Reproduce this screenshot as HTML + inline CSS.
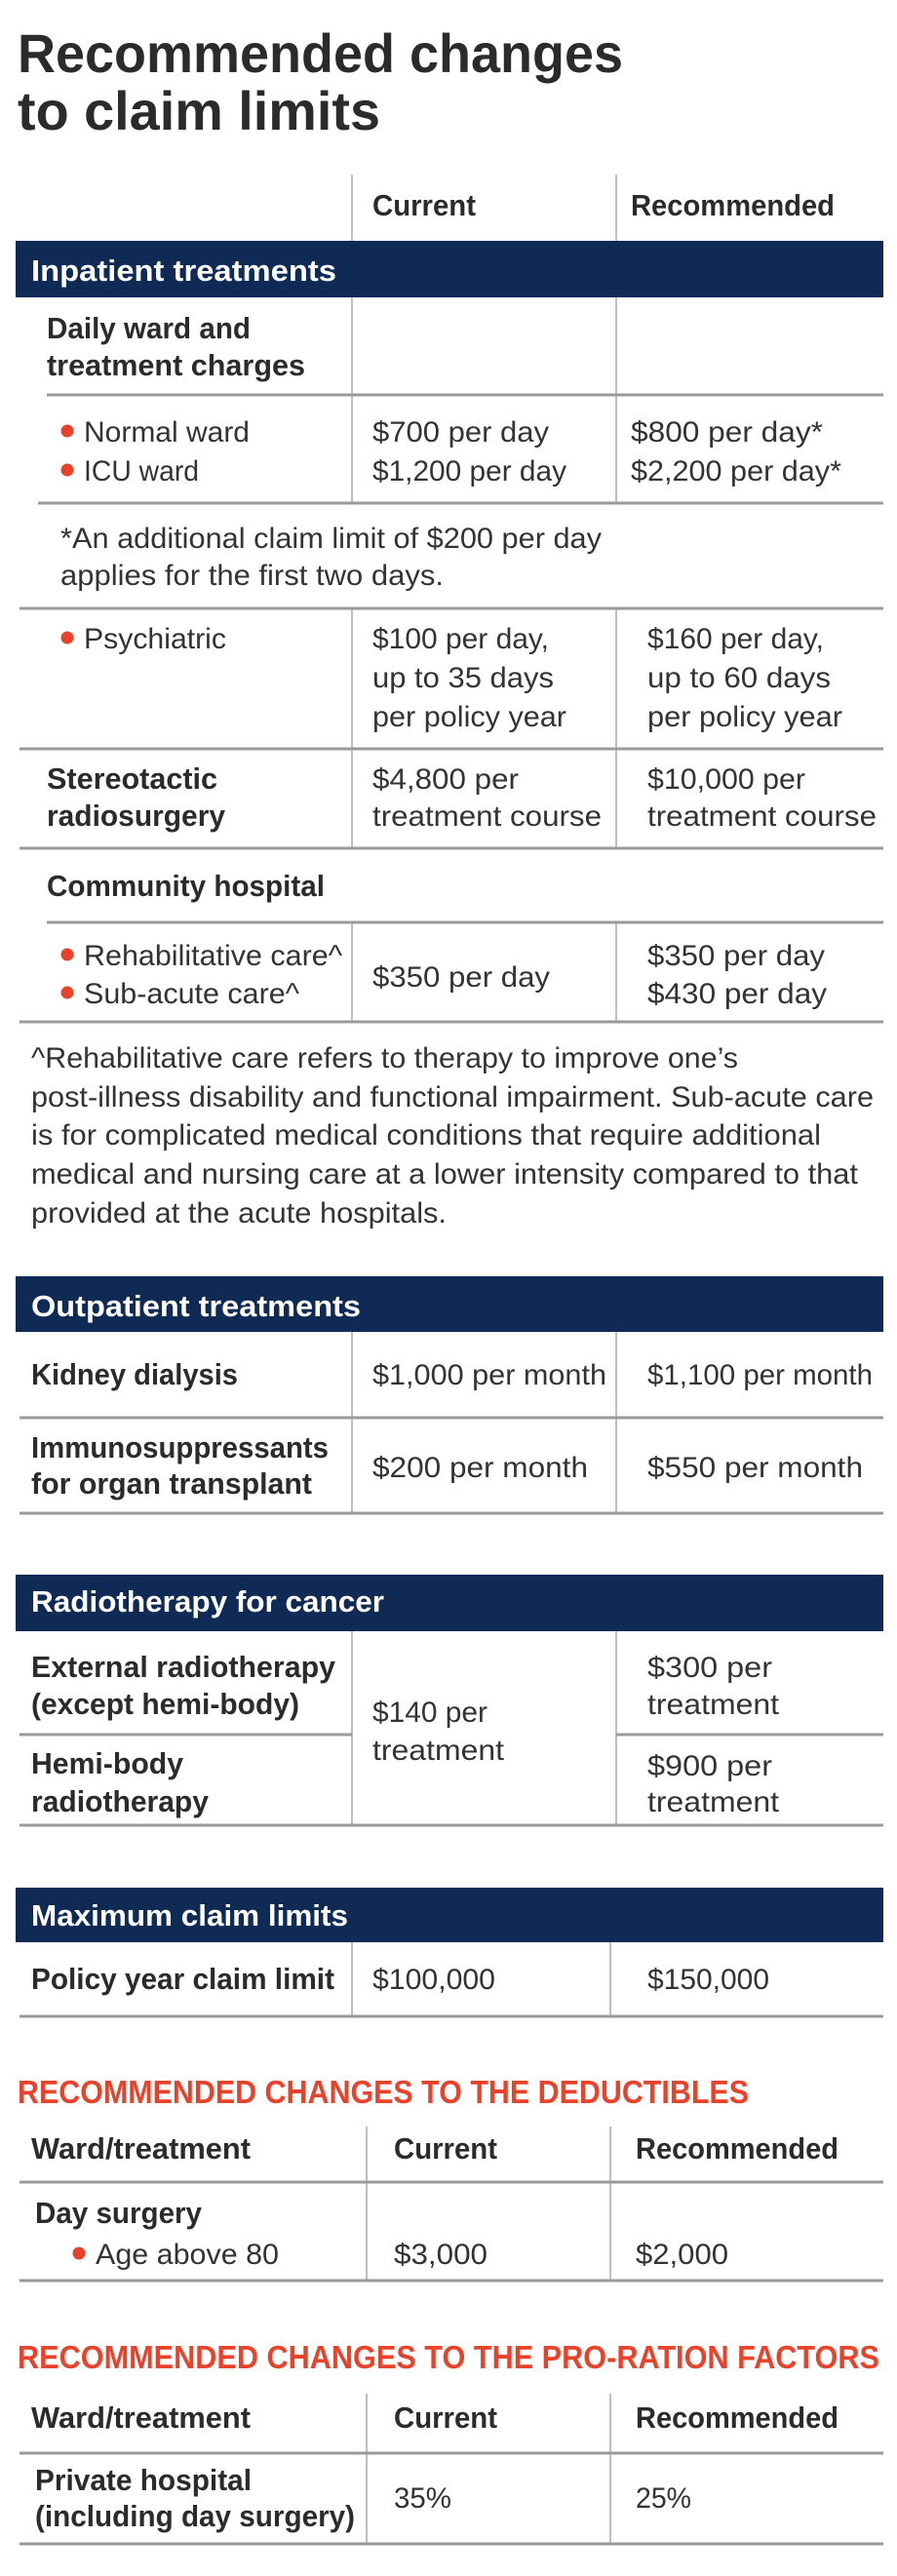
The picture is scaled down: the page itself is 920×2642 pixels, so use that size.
<!DOCTYPE html>
<html><head><meta charset="utf-8"><style>
html,body{margin:0;padding:0;background:#fff;}
svg{display:block;}
text{font-family:"Liberation Sans",sans-serif;fill:#333;}
.b{font-weight:bold;fill:#2b2b2b;}
.w{font-weight:bold;fill:#fff;font-size:31px;}
.n{font-size:30px;}
.h{font-size:31px;}
.r{font-weight:bold;fill:#e8432a;font-size:33px;}
</style></head><body>
<svg width="920" height="2642" viewBox="0 0 920 2642" xmlns="http://www.w3.org/2000/svg">
<g lengthAdjust="spacingAndGlyphs">
<text class="b" x="18" y="74" font-size="56" textLength="621" lengthAdjust="spacingAndGlyphs">Recommended changes</text>
<text class="b" x="18" y="133" font-size="56" textLength="372" lengthAdjust="spacingAndGlyphs">to claim limits</text>
</g>
<g stroke="#a8a8a8" stroke-width="1.5">
<line x1="361" y1="179" x2="361" y2="247"/><line x1="632" y1="179" x2="632" y2="247"/>
<line x1="361" y1="305" x2="361" y2="516"/><line x1="632" y1="305" x2="632" y2="516"/>
<line x1="361" y1="624" x2="361" y2="870"/><line x1="632" y1="624" x2="632" y2="870"/>
<line x1="361" y1="946" x2="361" y2="1048"/><line x1="632" y1="946" x2="632" y2="1048"/>
<line x1="361" y1="1366" x2="361" y2="1552"/><line x1="632" y1="1366" x2="632" y2="1552"/>
<line x1="361" y1="1673" x2="361" y2="1872"/><line x1="632" y1="1673" x2="632" y2="1872"/>
<line x1="361" y1="1992" x2="361" y2="2068"/><line x1="626" y1="1992" x2="626" y2="2068"/>
<line x1="376" y1="2181" x2="376" y2="2339"/><line x1="626" y1="2181" x2="626" y2="2339"/>
<line x1="376" y1="2455" x2="376" y2="2609"/><line x1="626" y1="2455" x2="626" y2="2609"/>
</g>
<g stroke="#9a9a9a" stroke-width="3">
<line x1="48" y1="405" x2="906" y2="405"/>
<line x1="39" y1="516" x2="906" y2="516"/>
<line x1="20" y1="624" x2="906" y2="624"/>
<line x1="20" y1="768" x2="906" y2="768"/>
<line x1="20" y1="870" x2="906" y2="870"/>
<line x1="48" y1="946" x2="906" y2="946"/>
<line x1="20" y1="1048" x2="906" y2="1048"/>
<line x1="20" y1="1454" x2="906" y2="1454"/>
<line x1="20" y1="1552" x2="906" y2="1552"/>
<line x1="20" y1="1779" x2="361" y2="1779"/><line x1="632" y1="1779" x2="906" y2="1779"/>
<line x1="20" y1="1872" x2="906" y2="1872"/>
<line x1="20" y1="2068" x2="906" y2="2068"/>
<line x1="20" y1="2238" x2="906" y2="2238"/>
<line x1="20" y1="2339" x2="906" y2="2339"/>
<line x1="20" y1="2516" x2="906" y2="2516"/>
<line x1="20" y1="2609" x2="906" y2="2609"/>
</g>
<g fill="#0f2a55">
<rect x="16" y="247" width="890" height="58"/>
<rect x="16" y="1309" width="890" height="57"/>
<rect x="16" y="1615" width="890" height="58"/>
<rect x="16" y="1936" width="890" height="56"/>
</g>
<g fill="#e8432a">
<circle cx="69" cy="442" r="6.5"/><circle cx="69" cy="482" r="6.5"/>
<circle cx="69" cy="654" r="6.5"/>
<circle cx="69" cy="979" r="6.5"/><circle cx="69" cy="1018" r="6.5"/>
<circle cx="81" cy="2311" r="6.5"/>
</g>
<!-- header -->
<text class="b h" x="382" y="221" textLength="106" lengthAdjust="spacingAndGlyphs">Current</text>
<text class="b h" x="647" y="221" textLength="209" lengthAdjust="spacingAndGlyphs">Recommended</text>
<text class="w" x="32" y="288" textLength="313" lengthAdjust="spacingAndGlyphs">Inpatient treatments</text>
<text class="b h" x="48" y="347" textLength="209" lengthAdjust="spacingAndGlyphs">Daily ward and</text>
<text class="b h" x="48" y="385" textLength="265" lengthAdjust="spacingAndGlyphs">treatment charges</text>
<text class="n" x="86" y="453" textLength="170" lengthAdjust="spacingAndGlyphs">Normal ward</text>
<text class="n" x="86" y="493" textLength="118" lengthAdjust="spacingAndGlyphs">ICU ward</text>
<text class="n" x="382" y="453" textLength="181" lengthAdjust="spacingAndGlyphs">$700 per day</text>
<text class="n" x="382" y="493" textLength="199" lengthAdjust="spacingAndGlyphs">$1,200 per day</text>
<text class="n" x="647" y="453" textLength="197" lengthAdjust="spacingAndGlyphs">$800 per day*</text>
<text class="n" x="647" y="493" textLength="216" lengthAdjust="spacingAndGlyphs">$2,200 per day*</text>
<text class="n" x="62" y="562" textLength="555" lengthAdjust="spacingAndGlyphs">*An additional claim limit of $200 per day</text>
<text class="n" x="62" y="600" textLength="393" lengthAdjust="spacingAndGlyphs">applies for the first two days.</text>
<text class="n" x="86" y="665" textLength="146" lengthAdjust="spacingAndGlyphs">Psychiatric</text>
<text class="n" x="382" y="665" textLength="181" lengthAdjust="spacingAndGlyphs">$100 per day,</text>
<text class="n" x="382" y="705" textLength="186" lengthAdjust="spacingAndGlyphs">up to 35 days</text>
<text class="n" x="382" y="745" textLength="199" lengthAdjust="spacingAndGlyphs">per policy year</text>
<text class="n" x="664" y="665" textLength="181" lengthAdjust="spacingAndGlyphs">$160 per day,</text>
<text class="n" x="664" y="705" textLength="188" lengthAdjust="spacingAndGlyphs">up to 60 days</text>
<text class="n" x="664" y="745" textLength="200" lengthAdjust="spacingAndGlyphs">per policy year</text>
<text class="b h" x="48" y="809" textLength="175" lengthAdjust="spacingAndGlyphs">Stereotactic</text>
<text class="b h" x="48" y="847" textLength="183" lengthAdjust="spacingAndGlyphs">radiosurgery</text>
<text class="n" x="382" y="809" textLength="150" lengthAdjust="spacingAndGlyphs">$4,800 per</text>
<text class="n" x="382" y="847" textLength="235" lengthAdjust="spacingAndGlyphs">treatment course</text>
<text class="n" x="664" y="809" textLength="162" lengthAdjust="spacingAndGlyphs">$10,000 per</text>
<text class="n" x="664" y="847" textLength="235" lengthAdjust="spacingAndGlyphs">treatment course</text>
<text class="b h" x="48" y="919" textLength="285" lengthAdjust="spacingAndGlyphs">Community hospital</text>
<text class="n" x="86" y="990" textLength="265" lengthAdjust="spacingAndGlyphs">Rehabilitative care^</text>
<text class="n" x="86" y="1029" textLength="221" lengthAdjust="spacingAndGlyphs">Sub-acute care^</text>
<text class="n" x="382" y="1012" textLength="182" lengthAdjust="spacingAndGlyphs">$350 per day</text>
<text class="n" x="664" y="990" textLength="182" lengthAdjust="spacingAndGlyphs">$350 per day</text>
<text class="n" x="664" y="1029" textLength="184" lengthAdjust="spacingAndGlyphs">$430 per day</text>
<text class="n" x="32" y="1095" textLength="725" lengthAdjust="spacingAndGlyphs">^Rehabilitative care refers to therapy to improve one’s</text>
<text class="n" x="32" y="1135" textLength="864" lengthAdjust="spacingAndGlyphs">post-illness disability and functional impairment. Sub-acute care</text>
<text class="n" x="32" y="1174" textLength="810" lengthAdjust="spacingAndGlyphs">is for complicated medical conditions that require additional</text>
<text class="n" x="32" y="1214" textLength="848" lengthAdjust="spacingAndGlyphs">medical and nursing care at a lower intensity compared to that</text>
<text class="n" x="32" y="1254" textLength="426" lengthAdjust="spacingAndGlyphs">provided at the acute hospitals.</text>
<text class="w" x="32" y="1350" textLength="338" lengthAdjust="spacingAndGlyphs">Outpatient treatments</text>
<text class="b h" x="32" y="1420" textLength="212" lengthAdjust="spacingAndGlyphs">Kidney dialysis</text>
<text class="n" x="382" y="1420" textLength="240" lengthAdjust="spacingAndGlyphs">$1,000 per month</text>
<text class="n" x="664" y="1420" textLength="231" lengthAdjust="spacingAndGlyphs">$1,100 per month</text>
<text class="b h" x="32" y="1495" textLength="305" lengthAdjust="spacingAndGlyphs">Immunosuppressants</text>
<text class="b h" x="32" y="1532" textLength="288" lengthAdjust="spacingAndGlyphs">for organ transplant</text>
<text class="n" x="382" y="1515" textLength="221" lengthAdjust="spacingAndGlyphs">$200 per month</text>
<text class="n" x="664" y="1515" textLength="221" lengthAdjust="spacingAndGlyphs">$550 per month</text>
<text class="w" x="32" y="1653" textLength="362" lengthAdjust="spacingAndGlyphs">Radiotherapy for cancer</text>
<text class="b h" x="32" y="1720" textLength="312" lengthAdjust="spacingAndGlyphs">External radiotherapy</text>
<text class="b h" x="32" y="1758" textLength="275" lengthAdjust="spacingAndGlyphs">(except hemi-body)</text>
<text class="n" x="382" y="1766" textLength="118" lengthAdjust="spacingAndGlyphs">$140 per</text>
<text class="n" x="382" y="1805" textLength="135" lengthAdjust="spacingAndGlyphs">treatment</text>
<text class="n" x="664" y="1720" textLength="128" lengthAdjust="spacingAndGlyphs">$300 per</text>
<text class="n" x="664" y="1758" textLength="135" lengthAdjust="spacingAndGlyphs">treatment</text>
<text class="b h" x="32" y="1819" textLength="156" lengthAdjust="spacingAndGlyphs">Hemi-body</text>
<text class="b h" x="32" y="1858" textLength="182" lengthAdjust="spacingAndGlyphs">radiotherapy</text>
<text class="n" x="664" y="1821" textLength="128" lengthAdjust="spacingAndGlyphs">$900 per</text>
<text class="n" x="664" y="1858" textLength="135" lengthAdjust="spacingAndGlyphs">treatment</text>
<text class="w" x="32" y="1975" textLength="325" lengthAdjust="spacingAndGlyphs">Maximum claim limits</text>
<text class="b h" x="32" y="2040" textLength="311" lengthAdjust="spacingAndGlyphs">Policy year claim limit</text>
<text class="n" x="382" y="2040" textLength="126" lengthAdjust="spacingAndGlyphs">$100,000</text>
<text class="n" x="664" y="2040" textLength="125" lengthAdjust="spacingAndGlyphs">$150,000</text>
<text class="r" x="18" y="2157" textLength="750" lengthAdjust="spacingAndGlyphs">RECOMMENDED CHANGES TO THE DEDUCTIBLES</text>
<text class="b h" x="32" y="2214" textLength="225" lengthAdjust="spacingAndGlyphs">Ward/treatment</text>
<text class="b h" x="404" y="2214" textLength="106" lengthAdjust="spacingAndGlyphs">Current</text>
<text class="b h" x="652" y="2214" textLength="208" lengthAdjust="spacingAndGlyphs">Recommended</text>
<text class="b h" x="36" y="2280" textLength="171" lengthAdjust="spacingAndGlyphs">Day surgery</text>
<text class="n" x="98" y="2322" textLength="188" lengthAdjust="spacingAndGlyphs">Age above 80</text>
<text class="n" x="404" y="2322" textLength="96" lengthAdjust="spacingAndGlyphs">$3,000</text>
<text class="n" x="652" y="2322" textLength="95" lengthAdjust="spacingAndGlyphs">$2,000</text>
<text class="r" x="18" y="2429" textLength="884" lengthAdjust="spacingAndGlyphs">RECOMMENDED CHANGES TO THE PRO-RATION FACTORS</text>
<text class="b h" x="32" y="2490" textLength="225" lengthAdjust="spacingAndGlyphs">Ward/treatment</text>
<text class="b h" x="404" y="2490" textLength="106" lengthAdjust="spacingAndGlyphs">Current</text>
<text class="b h" x="652" y="2490" textLength="208" lengthAdjust="spacingAndGlyphs">Recommended</text>
<text class="b h" x="36" y="2554" textLength="222" lengthAdjust="spacingAndGlyphs">Private hospital</text>
<text class="b h" x="36" y="2591" textLength="328" lengthAdjust="spacingAndGlyphs">(including day surgery)</text>
<text class="n" x="404" y="2572" textLength="59" lengthAdjust="spacingAndGlyphs">35%</text>
<text class="n" x="652" y="2572" textLength="57" lengthAdjust="spacingAndGlyphs">25%</text>
</svg>
</body></html>
